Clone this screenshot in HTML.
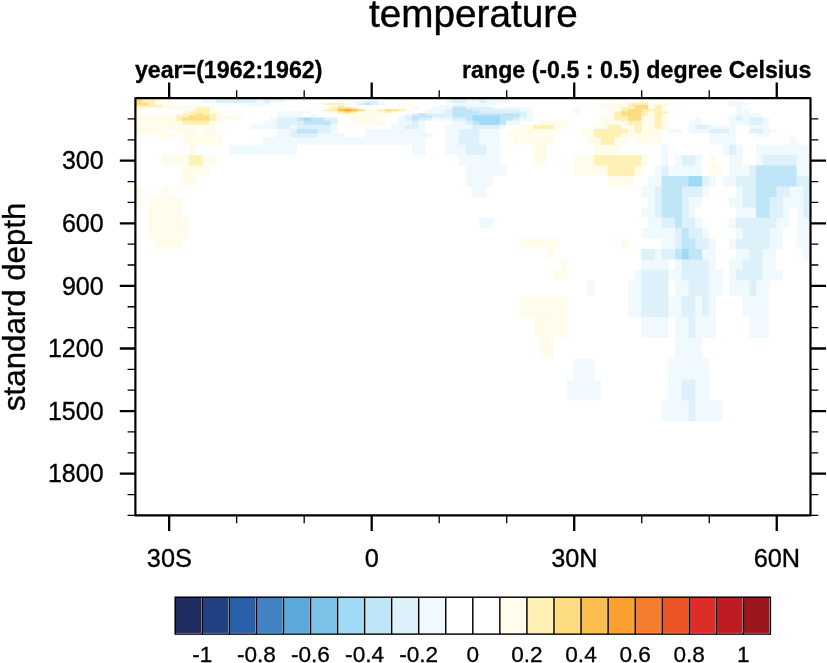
<!DOCTYPE html>
<html lang="en">
<head>
<meta charset="utf-8">
<title>temperature</title>
<style>
html,body{margin:0;padding:0;background:#fff;}
body{width:827px;height:663px;overflow:hidden;}
svg{display:block;font-family:'Liberation Sans','Arimo','Helvetica','Arial',sans-serif;}
text{fill:#000;}
</style>
</head>
<body>
<svg width="827" height="663" viewBox="0 0 827 663">
<rect x="0" y="0" width="827" height="663" fill="#fff"/>
<g stroke="none">
<rect x="135.05" y="97.75" width="7.75" height="4.13" fill="#fedc82"/>
<rect x="141.80" y="97.75" width="14.50" height="4.13" fill="#fff0b4"/>
<rect x="155.30" y="97.75" width="14.50" height="4.13" fill="#fffceb"/>
<rect x="168.80" y="97.75" width="34.75" height="4.13" fill="#fff"/>
<rect x="202.56" y="97.75" width="14.50" height="4.13" fill="#f0f9fd"/>
<rect x="216.06" y="97.75" width="41.50" height="4.13" fill="#dcf1fa"/>
<rect x="256.56" y="97.75" width="7.75" height="4.13" fill="#f0f9fd"/>
<rect x="263.31" y="97.75" width="21.25" height="4.13" fill="#dcf1fa"/>
<rect x="283.56" y="97.75" width="28.00" height="4.13" fill="#f0f9fd"/>
<rect x="310.56" y="97.75" width="136.01" height="4.13" fill="#fff"/>
<rect x="445.57" y="97.75" width="7.75" height="4.13" fill="#f0f9fd"/>
<rect x="452.32" y="97.75" width="14.50" height="4.13" fill="#dcf1fa"/>
<rect x="465.82" y="97.75" width="14.50" height="4.13" fill="#f0f9fd"/>
<rect x="479.33" y="97.75" width="7.75" height="4.13" fill="#dcf1fa"/>
<rect x="486.08" y="97.75" width="21.25" height="4.13" fill="#f0f9fd"/>
<rect x="506.33" y="97.75" width="304.17" height="4.13" fill="#fff"/>
<rect x="135.05" y="100.88" width="7.75" height="3.09" fill="#fedc82"/>
<rect x="141.80" y="100.88" width="14.50" height="3.09" fill="#fff0b4"/>
<rect x="155.30" y="100.88" width="14.50" height="3.09" fill="#fffceb"/>
<rect x="168.80" y="100.88" width="34.75" height="3.09" fill="#fff"/>
<rect x="202.56" y="100.88" width="14.50" height="3.09" fill="#f0f9fd"/>
<rect x="216.06" y="100.88" width="41.50" height="3.09" fill="#dcf1fa"/>
<rect x="256.56" y="100.88" width="7.75" height="3.09" fill="#f0f9fd"/>
<rect x="263.31" y="100.88" width="7.75" height="3.09" fill="#dcf1fa"/>
<rect x="270.06" y="100.88" width="14.50" height="3.09" fill="#f0f9fd"/>
<rect x="283.56" y="100.88" width="68.50" height="3.09" fill="#fff"/>
<rect x="351.07" y="100.88" width="14.50" height="3.09" fill="#f0f9fd"/>
<rect x="364.57" y="100.88" width="14.50" height="3.09" fill="#dcf1fa"/>
<rect x="378.07" y="100.88" width="7.75" height="3.09" fill="#f0f9fd"/>
<rect x="384.82" y="100.88" width="61.75" height="3.09" fill="#fff"/>
<rect x="445.57" y="100.88" width="7.75" height="3.09" fill="#f0f9fd"/>
<rect x="452.32" y="100.88" width="14.50" height="3.09" fill="#dcf1fa"/>
<rect x="465.82" y="100.88" width="14.50" height="3.09" fill="#f0f9fd"/>
<rect x="479.33" y="100.88" width="7.75" height="3.09" fill="#dcf1fa"/>
<rect x="486.08" y="100.88" width="21.25" height="3.09" fill="#f0f9fd"/>
<rect x="506.33" y="100.88" width="129.26" height="3.09" fill="#fff"/>
<rect x="634.59" y="100.88" width="14.50" height="3.09" fill="#fffceb"/>
<rect x="648.09" y="100.88" width="82.01" height="3.09" fill="#fff"/>
<rect x="729.09" y="100.88" width="14.50" height="3.09" fill="#f0f9fd"/>
<rect x="742.60" y="100.88" width="67.90" height="3.09" fill="#fff"/>
<rect x="135.05" y="102.97" width="14.50" height="3.09" fill="#fedc82"/>
<rect x="148.55" y="102.97" width="7.75" height="3.09" fill="#fff0b4"/>
<rect x="155.30" y="102.97" width="14.50" height="3.09" fill="#fffceb"/>
<rect x="168.80" y="102.97" width="55.00" height="3.09" fill="#fff"/>
<rect x="222.81" y="102.97" width="7.75" height="3.09" fill="#f0f9fd"/>
<rect x="229.56" y="102.97" width="14.50" height="3.09" fill="#fff"/>
<rect x="243.06" y="102.97" width="28.00" height="3.09" fill="#f0f9fd"/>
<rect x="270.06" y="102.97" width="41.50" height="3.09" fill="#fff"/>
<rect x="310.56" y="102.97" width="14.50" height="3.09" fill="#fffceb"/>
<rect x="324.06" y="102.97" width="21.25" height="3.09" fill="#fff0b4"/>
<rect x="344.32" y="102.97" width="7.75" height="3.09" fill="#fffceb"/>
<rect x="351.07" y="102.97" width="7.75" height="3.09" fill="#fff"/>
<rect x="357.82" y="102.97" width="7.75" height="3.09" fill="#dcf1fa"/>
<rect x="364.57" y="102.97" width="7.75" height="3.09" fill="#bee5f8"/>
<rect x="371.32" y="102.97" width="7.75" height="3.09" fill="#dcf1fa"/>
<rect x="378.07" y="102.97" width="7.75" height="3.09" fill="#f0f9fd"/>
<rect x="384.82" y="102.97" width="14.50" height="3.09" fill="#fff"/>
<rect x="398.32" y="102.97" width="28.00" height="3.09" fill="#fffceb"/>
<rect x="425.32" y="102.97" width="28.00" height="3.09" fill="#fff"/>
<rect x="452.32" y="102.97" width="48.25" height="3.09" fill="#f0f9fd"/>
<rect x="499.58" y="102.97" width="95.51" height="3.09" fill="#fff"/>
<rect x="594.08" y="102.97" width="34.75" height="3.09" fill="#fffceb"/>
<rect x="627.84" y="102.97" width="21.25" height="3.09" fill="#fff0b4"/>
<rect x="648.09" y="102.97" width="21.25" height="3.09" fill="#fffceb"/>
<rect x="668.34" y="102.97" width="7.75" height="3.09" fill="#fff"/>
<rect x="675.09" y="102.97" width="7.75" height="3.09" fill="#fffceb"/>
<rect x="681.84" y="102.97" width="48.25" height="3.09" fill="#fff"/>
<rect x="729.09" y="102.97" width="21.25" height="3.09" fill="#f0f9fd"/>
<rect x="749.35" y="102.97" width="61.15" height="3.09" fill="#fff"/>
<rect x="135.05" y="105.05" width="28.00" height="3.09" fill="#fff0b4"/>
<rect x="162.05" y="105.05" width="55.00" height="3.09" fill="#fffceb"/>
<rect x="216.06" y="105.05" width="34.75" height="3.09" fill="#fff"/>
<rect x="249.81" y="105.05" width="14.50" height="3.09" fill="#f0f9fd"/>
<rect x="263.31" y="105.05" width="61.75" height="3.09" fill="#fff"/>
<rect x="324.06" y="105.05" width="14.50" height="3.09" fill="#fffceb"/>
<rect x="337.56" y="105.05" width="7.75" height="3.09" fill="#fff0b4"/>
<rect x="344.32" y="105.05" width="55.00" height="3.09" fill="#fff"/>
<rect x="398.32" y="105.05" width="7.75" height="3.09" fill="#fffceb"/>
<rect x="405.07" y="105.05" width="34.75" height="3.09" fill="#fff"/>
<rect x="438.82" y="105.05" width="14.50" height="3.09" fill="#f0f9fd"/>
<rect x="452.32" y="105.05" width="14.50" height="3.09" fill="#dcf1fa"/>
<rect x="465.82" y="105.05" width="28.00" height="3.09" fill="#f0f9fd"/>
<rect x="492.83" y="105.05" width="109.01" height="3.09" fill="#fff"/>
<rect x="600.83" y="105.05" width="28.00" height="3.09" fill="#fffceb"/>
<rect x="627.84" y="105.05" width="7.75" height="3.09" fill="#fff0b4"/>
<rect x="634.59" y="105.05" width="14.50" height="3.09" fill="#fedc82"/>
<rect x="648.09" y="105.05" width="7.75" height="3.09" fill="#fffceb"/>
<rect x="654.84" y="105.05" width="7.75" height="3.09" fill="#fff0b4"/>
<rect x="661.59" y="105.05" width="7.75" height="3.09" fill="#fffceb"/>
<rect x="668.34" y="105.05" width="61.75" height="3.09" fill="#fff"/>
<rect x="729.09" y="105.05" width="14.50" height="3.09" fill="#f0f9fd"/>
<rect x="742.60" y="105.05" width="67.90" height="3.09" fill="#fff"/>
<rect x="135.05" y="107.14" width="61.75" height="3.09" fill="#fffceb"/>
<rect x="195.80" y="107.14" width="14.50" height="3.09" fill="#fff0b4"/>
<rect x="209.31" y="107.14" width="7.75" height="3.09" fill="#fffceb"/>
<rect x="216.06" y="107.14" width="109.01" height="3.09" fill="#fff"/>
<rect x="324.06" y="107.14" width="7.75" height="3.09" fill="#fffceb"/>
<rect x="330.81" y="107.14" width="7.75" height="3.09" fill="#fff0b4"/>
<rect x="337.56" y="107.14" width="14.50" height="3.09" fill="#fedc82"/>
<rect x="351.07" y="107.14" width="7.75" height="3.09" fill="#fff0b4"/>
<rect x="357.82" y="107.14" width="41.50" height="3.09" fill="#fff"/>
<rect x="398.32" y="107.14" width="7.75" height="3.09" fill="#fffceb"/>
<rect x="405.07" y="107.14" width="7.75" height="3.09" fill="#fff"/>
<rect x="411.82" y="107.14" width="7.75" height="3.09" fill="#f0f9fd"/>
<rect x="418.57" y="107.14" width="14.50" height="3.09" fill="#fff"/>
<rect x="432.07" y="107.14" width="21.25" height="3.09" fill="#f0f9fd"/>
<rect x="452.32" y="107.14" width="14.50" height="3.09" fill="#bee5f8"/>
<rect x="465.82" y="107.14" width="28.00" height="3.09" fill="#dcf1fa"/>
<rect x="492.83" y="107.14" width="34.75" height="3.09" fill="#f0f9fd"/>
<rect x="526.58" y="107.14" width="75.26" height="3.09" fill="#fff"/>
<rect x="600.83" y="107.14" width="21.25" height="3.09" fill="#fffceb"/>
<rect x="621.09" y="107.14" width="14.50" height="3.09" fill="#fff0b4"/>
<rect x="634.59" y="107.14" width="14.50" height="3.09" fill="#fedc82"/>
<rect x="648.09" y="107.14" width="7.75" height="3.09" fill="#fffceb"/>
<rect x="654.84" y="107.14" width="7.75" height="3.09" fill="#fff0b4"/>
<rect x="661.59" y="107.14" width="7.75" height="3.09" fill="#fffceb"/>
<rect x="668.34" y="107.14" width="68.50" height="3.09" fill="#fff"/>
<rect x="735.84" y="107.14" width="7.75" height="3.09" fill="#f0f9fd"/>
<rect x="742.60" y="107.14" width="67.90" height="3.09" fill="#fff"/>
<rect x="135.05" y="109.23" width="7.75" height="3.09" fill="#fffceb"/>
<rect x="141.80" y="109.23" width="41.50" height="3.09" fill="#fff"/>
<rect x="182.30" y="109.23" width="14.50" height="3.09" fill="#fffceb"/>
<rect x="195.80" y="109.23" width="14.50" height="3.09" fill="#fff0b4"/>
<rect x="209.31" y="109.23" width="7.75" height="3.09" fill="#fffceb"/>
<rect x="216.06" y="109.23" width="102.26" height="3.09" fill="#fff"/>
<rect x="317.31" y="109.23" width="7.75" height="3.09" fill="#fffceb"/>
<rect x="324.06" y="109.23" width="14.50" height="3.09" fill="#fff0b4"/>
<rect x="337.56" y="109.23" width="7.75" height="3.09" fill="#fdbe50"/>
<rect x="344.32" y="109.23" width="7.75" height="3.09" fill="#faa032"/>
<rect x="351.07" y="109.23" width="7.75" height="3.09" fill="#fdbe50"/>
<rect x="357.82" y="109.23" width="7.75" height="3.09" fill="#fedc82"/>
<rect x="364.57" y="109.23" width="14.50" height="3.09" fill="#fffceb"/>
<rect x="378.07" y="109.23" width="7.75" height="3.09" fill="#fff0b4"/>
<rect x="384.82" y="109.23" width="14.50" height="3.09" fill="#fedc82"/>
<rect x="398.32" y="109.23" width="7.75" height="3.09" fill="#fff0b4"/>
<rect x="405.07" y="109.23" width="7.75" height="3.09" fill="#fffceb"/>
<rect x="411.82" y="109.23" width="14.50" height="3.09" fill="#fff"/>
<rect x="425.32" y="109.23" width="21.25" height="3.09" fill="#f0f9fd"/>
<rect x="445.57" y="109.23" width="7.75" height="3.09" fill="#dcf1fa"/>
<rect x="452.32" y="109.23" width="21.25" height="3.09" fill="#bee5f8"/>
<rect x="472.57" y="109.23" width="48.25" height="3.09" fill="#dcf1fa"/>
<rect x="519.83" y="109.23" width="14.50" height="3.09" fill="#f0f9fd"/>
<rect x="533.33" y="109.23" width="41.50" height="3.09" fill="#fff"/>
<rect x="573.83" y="109.23" width="7.75" height="3.09" fill="#f0f9fd"/>
<rect x="580.58" y="109.23" width="28.00" height="3.09" fill="#fff"/>
<rect x="607.59" y="109.23" width="7.75" height="3.09" fill="#fffceb"/>
<rect x="614.34" y="109.23" width="7.75" height="3.09" fill="#fff"/>
<rect x="621.09" y="109.23" width="7.75" height="3.09" fill="#fff0b4"/>
<rect x="627.84" y="109.23" width="14.50" height="3.09" fill="#fedc82"/>
<rect x="641.34" y="109.23" width="21.25" height="3.09" fill="#fff0b4"/>
<rect x="661.59" y="109.23" width="7.75" height="3.09" fill="#fffceb"/>
<rect x="668.34" y="109.23" width="68.50" height="3.09" fill="#fff"/>
<rect x="735.84" y="109.23" width="14.50" height="3.09" fill="#f0f9fd"/>
<rect x="749.35" y="109.23" width="61.15" height="3.09" fill="#fff"/>
<rect x="135.05" y="111.31" width="48.25" height="3.09" fill="#fff"/>
<rect x="182.30" y="111.31" width="7.75" height="3.09" fill="#fffceb"/>
<rect x="189.05" y="111.31" width="21.25" height="3.09" fill="#fff0b4"/>
<rect x="209.31" y="111.31" width="14.50" height="3.09" fill="#fffceb"/>
<rect x="222.81" y="111.31" width="55.00" height="3.09" fill="#fff"/>
<rect x="276.81" y="111.31" width="34.75" height="3.09" fill="#f0f9fd"/>
<rect x="310.56" y="111.31" width="14.50" height="3.09" fill="#fff"/>
<rect x="324.06" y="111.31" width="14.50" height="3.09" fill="#fffceb"/>
<rect x="337.56" y="111.31" width="7.75" height="3.09" fill="#fff0b4"/>
<rect x="344.32" y="111.31" width="7.75" height="3.09" fill="#fedc82"/>
<rect x="351.07" y="111.31" width="7.75" height="3.09" fill="#fff0b4"/>
<rect x="357.82" y="111.31" width="28.00" height="3.09" fill="#fffceb"/>
<rect x="384.82" y="111.31" width="7.75" height="3.09" fill="#fff0b4"/>
<rect x="391.57" y="111.31" width="7.75" height="3.09" fill="#fffceb"/>
<rect x="398.32" y="111.31" width="28.00" height="3.09" fill="#fff"/>
<rect x="425.32" y="111.31" width="21.25" height="3.09" fill="#f0f9fd"/>
<rect x="445.57" y="111.31" width="7.75" height="3.09" fill="#dcf1fa"/>
<rect x="452.32" y="111.31" width="28.00" height="3.09" fill="#bee5f8"/>
<rect x="479.33" y="111.31" width="48.25" height="3.09" fill="#dcf1fa"/>
<rect x="526.58" y="111.31" width="7.75" height="3.09" fill="#f0f9fd"/>
<rect x="533.33" y="111.31" width="41.50" height="3.09" fill="#fff"/>
<rect x="573.83" y="111.31" width="7.75" height="3.09" fill="#f0f9fd"/>
<rect x="580.58" y="111.31" width="28.00" height="3.09" fill="#fff"/>
<rect x="607.59" y="111.31" width="7.75" height="3.09" fill="#fffceb"/>
<rect x="614.34" y="111.31" width="7.75" height="3.09" fill="#fff0b4"/>
<rect x="621.09" y="111.31" width="21.25" height="3.09" fill="#fedc82"/>
<rect x="641.34" y="111.31" width="7.75" height="3.09" fill="#fff0b4"/>
<rect x="648.09" y="111.31" width="7.75" height="3.09" fill="#fffceb"/>
<rect x="654.84" y="111.31" width="14.50" height="3.09" fill="#fff0b4"/>
<rect x="668.34" y="111.31" width="7.75" height="3.09" fill="#fff"/>
<rect x="675.09" y="111.31" width="7.75" height="3.09" fill="#fffceb"/>
<rect x="681.84" y="111.31" width="55.00" height="3.09" fill="#fff"/>
<rect x="735.84" y="111.31" width="14.50" height="3.09" fill="#f0f9fd"/>
<rect x="749.35" y="111.31" width="61.15" height="3.09" fill="#fff"/>
<rect x="135.05" y="113.40" width="7.75" height="3.09" fill="#fffceb"/>
<rect x="141.80" y="113.40" width="7.75" height="3.09" fill="#fff"/>
<rect x="148.55" y="113.40" width="7.75" height="3.09" fill="#fffceb"/>
<rect x="155.30" y="113.40" width="7.75" height="3.09" fill="#fff"/>
<rect x="162.05" y="113.40" width="21.25" height="3.09" fill="#fffceb"/>
<rect x="182.30" y="113.40" width="14.50" height="3.09" fill="#fff0b4"/>
<rect x="195.80" y="113.40" width="7.75" height="3.09" fill="#fedc82"/>
<rect x="202.56" y="113.40" width="14.50" height="3.09" fill="#fff0b4"/>
<rect x="216.06" y="113.40" width="7.75" height="3.09" fill="#fffceb"/>
<rect x="222.81" y="113.40" width="55.00" height="3.09" fill="#fff"/>
<rect x="276.81" y="113.40" width="28.00" height="3.09" fill="#f0f9fd"/>
<rect x="303.81" y="113.40" width="7.75" height="3.09" fill="#fff"/>
<rect x="310.56" y="113.40" width="7.75" height="3.09" fill="#f0f9fd"/>
<rect x="317.31" y="113.40" width="21.25" height="3.09" fill="#fff"/>
<rect x="337.56" y="113.40" width="48.25" height="3.09" fill="#fffceb"/>
<rect x="384.82" y="113.40" width="21.25" height="3.09" fill="#fff"/>
<rect x="405.07" y="113.40" width="7.75" height="3.09" fill="#f0f9fd"/>
<rect x="411.82" y="113.40" width="7.75" height="3.09" fill="#dcf1fa"/>
<rect x="418.57" y="113.40" width="7.75" height="3.09" fill="#bee5f8"/>
<rect x="425.32" y="113.40" width="28.00" height="3.09" fill="#dcf1fa"/>
<rect x="452.32" y="113.40" width="68.51" height="3.09" fill="#bee5f8"/>
<rect x="519.83" y="113.40" width="7.75" height="3.09" fill="#dcf1fa"/>
<rect x="526.58" y="113.40" width="7.75" height="3.09" fill="#f0f9fd"/>
<rect x="533.33" y="113.40" width="75.26" height="3.09" fill="#fff"/>
<rect x="607.59" y="113.40" width="7.75" height="3.09" fill="#fffceb"/>
<rect x="614.34" y="113.40" width="7.75" height="3.09" fill="#fff0b4"/>
<rect x="621.09" y="113.40" width="21.25" height="3.09" fill="#fedc82"/>
<rect x="641.34" y="113.40" width="7.75" height="3.09" fill="#fff0b4"/>
<rect x="648.09" y="113.40" width="7.75" height="3.09" fill="#fffceb"/>
<rect x="654.84" y="113.40" width="7.75" height="3.09" fill="#fff0b4"/>
<rect x="661.59" y="113.40" width="7.75" height="3.09" fill="#fffceb"/>
<rect x="668.34" y="113.40" width="68.50" height="3.09" fill="#fff"/>
<rect x="735.84" y="113.40" width="28.00" height="3.09" fill="#f0f9fd"/>
<rect x="762.85" y="113.40" width="47.65" height="3.09" fill="#fff"/>
<rect x="135.05" y="115.49" width="41.50" height="3.09" fill="#fffceb"/>
<rect x="175.55" y="115.49" width="14.50" height="3.09" fill="#fff0b4"/>
<rect x="189.05" y="115.49" width="21.25" height="3.09" fill="#fedc82"/>
<rect x="209.31" y="115.49" width="7.75" height="3.09" fill="#fff0b4"/>
<rect x="216.06" y="115.49" width="28.00" height="3.09" fill="#fffceb"/>
<rect x="243.06" y="115.49" width="34.75" height="3.09" fill="#fff"/>
<rect x="276.81" y="115.49" width="28.00" height="3.09" fill="#f0f9fd"/>
<rect x="303.81" y="115.49" width="7.75" height="3.09" fill="#fff"/>
<rect x="310.56" y="115.49" width="7.75" height="3.09" fill="#f0f9fd"/>
<rect x="317.31" y="115.49" width="34.75" height="3.09" fill="#fff"/>
<rect x="351.07" y="115.49" width="34.75" height="3.09" fill="#fffceb"/>
<rect x="384.82" y="115.49" width="14.50" height="3.09" fill="#fff"/>
<rect x="398.32" y="115.49" width="7.75" height="3.09" fill="#f0f9fd"/>
<rect x="405.07" y="115.49" width="7.75" height="3.09" fill="#dcf1fa"/>
<rect x="411.82" y="115.49" width="21.25" height="3.09" fill="#bee5f8"/>
<rect x="432.07" y="115.49" width="21.25" height="3.09" fill="#dcf1fa"/>
<rect x="452.32" y="115.49" width="21.25" height="3.09" fill="#bee5f8"/>
<rect x="472.57" y="115.49" width="28.00" height="3.09" fill="#a0d9f5"/>
<rect x="499.58" y="115.49" width="21.25" height="3.09" fill="#bee5f8"/>
<rect x="519.83" y="115.49" width="7.75" height="3.09" fill="#dcf1fa"/>
<rect x="526.58" y="115.49" width="7.75" height="3.09" fill="#f0f9fd"/>
<rect x="533.33" y="115.49" width="68.50" height="3.09" fill="#fff"/>
<rect x="600.83" y="115.49" width="14.50" height="3.09" fill="#fffceb"/>
<rect x="614.34" y="115.49" width="14.50" height="3.09" fill="#fff0b4"/>
<rect x="627.84" y="115.49" width="14.50" height="3.09" fill="#fedc82"/>
<rect x="641.34" y="115.49" width="14.50" height="3.09" fill="#fffceb"/>
<rect x="654.84" y="115.49" width="7.75" height="3.09" fill="#fff0b4"/>
<rect x="661.59" y="115.49" width="7.75" height="3.09" fill="#fffceb"/>
<rect x="668.34" y="115.49" width="61.75" height="3.09" fill="#fff"/>
<rect x="729.09" y="115.49" width="7.75" height="3.09" fill="#f0f9fd"/>
<rect x="735.84" y="115.49" width="7.75" height="3.09" fill="#dcf1fa"/>
<rect x="742.60" y="115.49" width="21.25" height="3.09" fill="#f0f9fd"/>
<rect x="762.85" y="115.49" width="47.65" height="3.09" fill="#fff"/>
<rect x="135.05" y="117.57" width="41.50" height="4.13" fill="#fffceb"/>
<rect x="175.55" y="117.57" width="7.75" height="4.13" fill="#fff0b4"/>
<rect x="182.30" y="117.57" width="28.00" height="4.13" fill="#fedc82"/>
<rect x="209.31" y="117.57" width="7.75" height="4.13" fill="#fff0b4"/>
<rect x="216.06" y="117.57" width="28.00" height="4.13" fill="#fffceb"/>
<rect x="243.06" y="117.57" width="28.00" height="4.13" fill="#fff"/>
<rect x="270.06" y="117.57" width="7.75" height="4.13" fill="#f0f9fd"/>
<rect x="276.81" y="117.57" width="21.25" height="4.13" fill="#dcf1fa"/>
<rect x="297.06" y="117.57" width="7.75" height="4.13" fill="#bee5f8"/>
<rect x="303.81" y="117.57" width="7.75" height="4.13" fill="#a0d9f5"/>
<rect x="310.56" y="117.57" width="14.50" height="4.13" fill="#bee5f8"/>
<rect x="324.06" y="117.57" width="14.50" height="4.13" fill="#dcf1fa"/>
<rect x="337.56" y="117.57" width="14.50" height="4.13" fill="#fff"/>
<rect x="351.07" y="117.57" width="28.00" height="4.13" fill="#fffceb"/>
<rect x="378.07" y="117.57" width="21.25" height="4.13" fill="#fff"/>
<rect x="398.32" y="117.57" width="7.75" height="4.13" fill="#f0f9fd"/>
<rect x="405.07" y="117.57" width="7.75" height="4.13" fill="#dcf1fa"/>
<rect x="411.82" y="117.57" width="7.75" height="4.13" fill="#bee5f8"/>
<rect x="418.57" y="117.57" width="14.50" height="4.13" fill="#dcf1fa"/>
<rect x="432.07" y="117.57" width="21.25" height="4.13" fill="#f0f9fd"/>
<rect x="452.32" y="117.57" width="14.50" height="4.13" fill="#dcf1fa"/>
<rect x="465.82" y="117.57" width="7.75" height="4.13" fill="#bee5f8"/>
<rect x="472.57" y="117.57" width="28.00" height="4.13" fill="#a0d9f5"/>
<rect x="499.58" y="117.57" width="14.50" height="4.13" fill="#bee5f8"/>
<rect x="513.08" y="117.57" width="7.75" height="4.13" fill="#dcf1fa"/>
<rect x="519.83" y="117.57" width="14.50" height="4.13" fill="#f0f9fd"/>
<rect x="533.33" y="117.57" width="68.50" height="4.13" fill="#fff"/>
<rect x="600.83" y="117.57" width="14.50" height="4.13" fill="#fffceb"/>
<rect x="614.34" y="117.57" width="14.50" height="4.13" fill="#fff0b4"/>
<rect x="627.84" y="117.57" width="14.50" height="4.13" fill="#fedc82"/>
<rect x="641.34" y="117.57" width="14.50" height="4.13" fill="#fffceb"/>
<rect x="654.84" y="117.57" width="7.75" height="4.13" fill="#fff0b4"/>
<rect x="661.59" y="117.57" width="7.75" height="4.13" fill="#fffceb"/>
<rect x="668.34" y="117.57" width="28.00" height="4.13" fill="#fff"/>
<rect x="695.34" y="117.57" width="7.75" height="4.13" fill="#f0f9fd"/>
<rect x="702.09" y="117.57" width="28.00" height="4.13" fill="#fff"/>
<rect x="729.09" y="117.57" width="7.75" height="4.13" fill="#f0f9fd"/>
<rect x="735.84" y="117.57" width="7.75" height="4.13" fill="#dcf1fa"/>
<rect x="742.60" y="117.57" width="7.75" height="4.13" fill="#f0f9fd"/>
<rect x="749.35" y="117.57" width="14.50" height="4.13" fill="#dcf1fa"/>
<rect x="762.85" y="117.57" width="7.75" height="4.13" fill="#f0f9fd"/>
<rect x="769.60" y="117.57" width="40.90" height="4.13" fill="#fff"/>
<rect x="135.05" y="120.70" width="48.25" height="5.17" fill="#fffceb"/>
<rect x="182.30" y="120.70" width="28.00" height="5.17" fill="#fff0b4"/>
<rect x="209.31" y="120.70" width="14.50" height="5.17" fill="#fffceb"/>
<rect x="222.81" y="120.70" width="41.50" height="5.17" fill="#fff"/>
<rect x="263.31" y="120.70" width="14.50" height="5.17" fill="#f0f9fd"/>
<rect x="276.81" y="120.70" width="28.00" height="5.17" fill="#dcf1fa"/>
<rect x="303.81" y="120.70" width="28.00" height="5.17" fill="#bee5f8"/>
<rect x="330.81" y="120.70" width="7.75" height="5.17" fill="#dcf1fa"/>
<rect x="337.56" y="120.70" width="14.50" height="5.17" fill="#fff"/>
<rect x="351.07" y="120.70" width="34.75" height="5.17" fill="#fffceb"/>
<rect x="384.82" y="120.70" width="14.50" height="5.17" fill="#fff"/>
<rect x="398.32" y="120.70" width="14.50" height="5.17" fill="#f0f9fd"/>
<rect x="411.82" y="120.70" width="7.75" height="5.17" fill="#dcf1fa"/>
<rect x="418.57" y="120.70" width="7.75" height="5.17" fill="#f0f9fd"/>
<rect x="425.32" y="120.70" width="28.00" height="5.17" fill="#fff"/>
<rect x="452.32" y="120.70" width="14.50" height="5.17" fill="#f0f9fd"/>
<rect x="465.82" y="120.70" width="7.75" height="5.17" fill="#dcf1fa"/>
<rect x="472.57" y="120.70" width="7.75" height="5.17" fill="#bee5f8"/>
<rect x="479.33" y="120.70" width="21.25" height="5.17" fill="#a0d9f5"/>
<rect x="499.58" y="120.70" width="7.75" height="5.17" fill="#bee5f8"/>
<rect x="506.33" y="120.70" width="14.50" height="5.17" fill="#f0f9fd"/>
<rect x="519.83" y="120.70" width="21.25" height="5.17" fill="#fff"/>
<rect x="540.08" y="120.70" width="28.00" height="5.17" fill="#fffceb"/>
<rect x="567.08" y="120.70" width="34.75" height="5.17" fill="#fff"/>
<rect x="600.83" y="120.70" width="28.00" height="5.17" fill="#fffceb"/>
<rect x="627.84" y="120.70" width="14.50" height="5.17" fill="#fff0b4"/>
<rect x="641.34" y="120.70" width="14.50" height="5.17" fill="#fffceb"/>
<rect x="654.84" y="120.70" width="7.75" height="5.17" fill="#fff0b4"/>
<rect x="661.59" y="120.70" width="7.75" height="5.17" fill="#fffceb"/>
<rect x="668.34" y="120.70" width="21.25" height="5.17" fill="#fff"/>
<rect x="688.59" y="120.70" width="14.50" height="5.17" fill="#f0f9fd"/>
<rect x="702.09" y="120.70" width="28.00" height="5.17" fill="#fff"/>
<rect x="729.09" y="120.70" width="21.25" height="5.17" fill="#f0f9fd"/>
<rect x="749.35" y="120.70" width="14.50" height="5.17" fill="#dcf1fa"/>
<rect x="762.85" y="120.70" width="7.75" height="5.17" fill="#f0f9fd"/>
<rect x="769.60" y="120.70" width="40.90" height="5.17" fill="#fff"/>
<rect x="135.05" y="124.87" width="82.01" height="5.17" fill="#fffceb"/>
<rect x="216.06" y="124.87" width="34.75" height="5.17" fill="#fff"/>
<rect x="249.81" y="124.87" width="28.00" height="5.17" fill="#f0f9fd"/>
<rect x="276.81" y="124.87" width="14.50" height="5.17" fill="#dcf1fa"/>
<rect x="290.31" y="124.87" width="7.75" height="5.17" fill="#f0f9fd"/>
<rect x="297.06" y="124.87" width="34.75" height="5.17" fill="#dcf1fa"/>
<rect x="330.81" y="124.87" width="7.75" height="5.17" fill="#f0f9fd"/>
<rect x="337.56" y="124.87" width="55.00" height="5.17" fill="#fff"/>
<rect x="391.57" y="124.87" width="14.50" height="5.17" fill="#f0f9fd"/>
<rect x="405.07" y="124.87" width="14.50" height="5.17" fill="#dcf1fa"/>
<rect x="418.57" y="124.87" width="7.75" height="5.17" fill="#f0f9fd"/>
<rect x="425.32" y="124.87" width="21.25" height="5.17" fill="#fff"/>
<rect x="445.57" y="124.87" width="28.00" height="5.17" fill="#f0f9fd"/>
<rect x="472.57" y="124.87" width="28.00" height="5.17" fill="#dcf1fa"/>
<rect x="499.58" y="124.87" width="7.75" height="5.17" fill="#f0f9fd"/>
<rect x="506.33" y="124.87" width="14.50" height="5.17" fill="#fff"/>
<rect x="519.83" y="124.87" width="14.50" height="5.17" fill="#fffceb"/>
<rect x="533.33" y="124.87" width="21.25" height="5.17" fill="#fff0b4"/>
<rect x="553.58" y="124.87" width="14.50" height="5.17" fill="#fffceb"/>
<rect x="567.08" y="124.87" width="28.00" height="5.17" fill="#fff"/>
<rect x="594.08" y="124.87" width="14.50" height="5.17" fill="#fffceb"/>
<rect x="607.59" y="124.87" width="14.50" height="5.17" fill="#fff0b4"/>
<rect x="621.09" y="124.87" width="14.50" height="5.17" fill="#fffceb"/>
<rect x="634.59" y="124.87" width="7.75" height="5.17" fill="#fff0b4"/>
<rect x="641.34" y="124.87" width="14.50" height="5.17" fill="#fffceb"/>
<rect x="654.84" y="124.87" width="7.75" height="5.17" fill="#fff0b4"/>
<rect x="661.59" y="124.87" width="7.75" height="5.17" fill="#fffceb"/>
<rect x="668.34" y="124.87" width="21.25" height="5.17" fill="#fff"/>
<rect x="688.59" y="124.87" width="7.75" height="5.17" fill="#f0f9fd"/>
<rect x="695.34" y="124.87" width="14.50" height="5.17" fill="#dcf1fa"/>
<rect x="708.84" y="124.87" width="28.00" height="5.17" fill="#f0f9fd"/>
<rect x="735.84" y="124.87" width="14.50" height="5.17" fill="#fff"/>
<rect x="749.35" y="124.87" width="21.25" height="5.17" fill="#f0f9fd"/>
<rect x="769.60" y="124.87" width="40.90" height="5.17" fill="#fff"/>
<rect x="135.05" y="129.05" width="34.75" height="5.17" fill="#fffceb"/>
<rect x="168.80" y="129.05" width="7.75" height="5.17" fill="#fff"/>
<rect x="175.55" y="129.05" width="21.25" height="5.17" fill="#fffceb"/>
<rect x="195.80" y="129.05" width="7.75" height="5.17" fill="#fff"/>
<rect x="202.56" y="129.05" width="14.50" height="5.17" fill="#fffceb"/>
<rect x="216.06" y="129.05" width="61.75" height="5.17" fill="#fff"/>
<rect x="276.81" y="129.05" width="14.50" height="5.17" fill="#f0f9fd"/>
<rect x="290.31" y="129.05" width="7.75" height="5.17" fill="#dcf1fa"/>
<rect x="297.06" y="129.05" width="21.25" height="5.17" fill="#bee5f8"/>
<rect x="317.31" y="129.05" width="14.50" height="5.17" fill="#dcf1fa"/>
<rect x="330.81" y="129.05" width="7.75" height="5.17" fill="#f0f9fd"/>
<rect x="337.56" y="129.05" width="28.00" height="5.17" fill="#fff"/>
<rect x="364.57" y="129.05" width="61.75" height="5.17" fill="#f0f9fd"/>
<rect x="425.32" y="129.05" width="21.25" height="5.17" fill="#fff"/>
<rect x="445.57" y="129.05" width="14.50" height="5.17" fill="#f0f9fd"/>
<rect x="459.07" y="129.05" width="21.25" height="5.17" fill="#dcf1fa"/>
<rect x="479.33" y="129.05" width="21.25" height="5.17" fill="#f0f9fd"/>
<rect x="499.58" y="129.05" width="14.50" height="5.17" fill="#fff"/>
<rect x="513.08" y="129.05" width="48.25" height="5.17" fill="#fffceb"/>
<rect x="560.33" y="129.05" width="21.25" height="5.17" fill="#fff"/>
<rect x="580.58" y="129.05" width="14.50" height="5.17" fill="#fffceb"/>
<rect x="594.08" y="129.05" width="34.75" height="5.17" fill="#fff0b4"/>
<rect x="627.84" y="129.05" width="7.75" height="5.17" fill="#fffceb"/>
<rect x="634.59" y="129.05" width="7.75" height="5.17" fill="#fff0b4"/>
<rect x="641.34" y="129.05" width="21.25" height="5.17" fill="#fffceb"/>
<rect x="661.59" y="129.05" width="7.75" height="5.17" fill="#fff"/>
<rect x="668.34" y="129.05" width="14.50" height="5.17" fill="#f0f9fd"/>
<rect x="681.84" y="129.05" width="7.75" height="5.17" fill="#fff"/>
<rect x="688.59" y="129.05" width="21.25" height="5.17" fill="#f0f9fd"/>
<rect x="708.84" y="129.05" width="21.25" height="5.17" fill="#dcf1fa"/>
<rect x="729.09" y="129.05" width="7.75" height="5.17" fill="#f0f9fd"/>
<rect x="735.84" y="129.05" width="14.50" height="5.17" fill="#fff"/>
<rect x="749.35" y="129.05" width="14.50" height="5.17" fill="#dcf1fa"/>
<rect x="762.85" y="129.05" width="14.50" height="5.17" fill="#f0f9fd"/>
<rect x="776.35" y="129.05" width="34.15" height="5.17" fill="#fff"/>
<rect x="135.05" y="133.22" width="21.25" height="5.17" fill="#fff"/>
<rect x="155.30" y="133.22" width="21.25" height="5.17" fill="#fffceb"/>
<rect x="175.55" y="133.22" width="7.75" height="5.17" fill="#fff"/>
<rect x="182.30" y="133.22" width="41.50" height="5.17" fill="#fffceb"/>
<rect x="222.81" y="133.22" width="55.00" height="5.17" fill="#fff"/>
<rect x="276.81" y="133.22" width="14.50" height="5.17" fill="#f0f9fd"/>
<rect x="290.31" y="133.22" width="28.00" height="5.17" fill="#dcf1fa"/>
<rect x="317.31" y="133.22" width="28.00" height="5.17" fill="#f0f9fd"/>
<rect x="344.32" y="133.22" width="21.25" height="5.17" fill="#fff"/>
<rect x="364.57" y="133.22" width="68.50" height="5.17" fill="#f0f9fd"/>
<rect x="432.07" y="133.22" width="14.50" height="5.17" fill="#fff"/>
<rect x="445.57" y="133.22" width="14.50" height="5.17" fill="#f0f9fd"/>
<rect x="459.07" y="133.22" width="21.25" height="5.17" fill="#dcf1fa"/>
<rect x="479.33" y="133.22" width="21.25" height="5.17" fill="#f0f9fd"/>
<rect x="499.58" y="133.22" width="7.75" height="5.17" fill="#fff"/>
<rect x="506.33" y="133.22" width="48.25" height="5.17" fill="#fffceb"/>
<rect x="553.58" y="133.22" width="28.00" height="5.17" fill="#fff"/>
<rect x="580.58" y="133.22" width="14.50" height="5.17" fill="#fffceb"/>
<rect x="594.08" y="133.22" width="28.00" height="5.17" fill="#fff0b4"/>
<rect x="621.09" y="133.22" width="41.50" height="5.17" fill="#fffceb"/>
<rect x="661.59" y="133.22" width="48.25" height="5.17" fill="#fff"/>
<rect x="708.84" y="133.22" width="28.00" height="5.17" fill="#f0f9fd"/>
<rect x="735.84" y="133.22" width="21.25" height="5.17" fill="#fff"/>
<rect x="756.10" y="133.22" width="14.50" height="5.17" fill="#f0f9fd"/>
<rect x="769.60" y="133.22" width="40.90" height="5.17" fill="#fff"/>
<rect x="135.05" y="137.39" width="48.25" height="8.30" fill="#fff"/>
<rect x="182.30" y="137.39" width="41.50" height="8.30" fill="#fffceb"/>
<rect x="222.81" y="137.39" width="41.50" height="8.30" fill="#fff"/>
<rect x="263.31" y="137.39" width="163.01" height="8.30" fill="#f0f9fd"/>
<rect x="425.32" y="137.39" width="21.25" height="8.30" fill="#fff"/>
<rect x="445.57" y="137.39" width="14.50" height="8.30" fill="#f0f9fd"/>
<rect x="459.07" y="137.39" width="21.25" height="8.30" fill="#dcf1fa"/>
<rect x="479.33" y="137.39" width="21.25" height="8.30" fill="#f0f9fd"/>
<rect x="499.58" y="137.39" width="14.50" height="8.30" fill="#fff"/>
<rect x="513.08" y="137.39" width="41.50" height="8.30" fill="#fffceb"/>
<rect x="553.58" y="137.39" width="34.75" height="8.30" fill="#fff"/>
<rect x="587.33" y="137.39" width="14.50" height="8.30" fill="#fffceb"/>
<rect x="600.83" y="137.39" width="14.50" height="8.30" fill="#fff0b4"/>
<rect x="614.34" y="137.39" width="14.50" height="8.30" fill="#fffceb"/>
<rect x="627.84" y="137.39" width="7.75" height="8.30" fill="#fff"/>
<rect x="634.59" y="137.39" width="28.00" height="8.30" fill="#fffceb"/>
<rect x="661.59" y="137.39" width="48.25" height="8.30" fill="#fff"/>
<rect x="708.84" y="137.39" width="28.00" height="8.30" fill="#f0f9fd"/>
<rect x="735.84" y="137.39" width="55.00" height="8.30" fill="#fff"/>
<rect x="789.85" y="137.39" width="7.75" height="8.30" fill="#f0f9fd"/>
<rect x="796.60" y="137.39" width="13.90" height="8.30" fill="#fff"/>
<rect x="135.05" y="144.70" width="55.00" height="11.43" fill="#fff"/>
<rect x="189.05" y="144.70" width="7.75" height="11.43" fill="#fffceb"/>
<rect x="195.80" y="144.70" width="34.75" height="11.43" fill="#fff"/>
<rect x="229.56" y="144.70" width="68.50" height="11.43" fill="#f0f9fd"/>
<rect x="297.06" y="144.70" width="115.76" height="11.43" fill="#fff"/>
<rect x="411.82" y="144.70" width="14.50" height="11.43" fill="#f0f9fd"/>
<rect x="425.32" y="144.70" width="21.25" height="11.43" fill="#fff"/>
<rect x="445.57" y="144.70" width="21.25" height="11.43" fill="#f0f9fd"/>
<rect x="465.82" y="144.70" width="21.25" height="11.43" fill="#dcf1fa"/>
<rect x="486.08" y="144.70" width="14.50" height="11.43" fill="#f0f9fd"/>
<rect x="499.58" y="144.70" width="34.75" height="11.43" fill="#fff"/>
<rect x="533.33" y="144.70" width="14.50" height="11.43" fill="#fffceb"/>
<rect x="546.83" y="144.70" width="48.25" height="11.43" fill="#fff"/>
<rect x="594.08" y="144.70" width="28.00" height="11.43" fill="#fffceb"/>
<rect x="621.09" y="144.70" width="41.50" height="11.43" fill="#fff"/>
<rect x="661.59" y="144.70" width="7.75" height="11.43" fill="#f0f9fd"/>
<rect x="668.34" y="144.70" width="55.00" height="11.43" fill="#fff"/>
<rect x="722.34" y="144.70" width="7.75" height="11.43" fill="#f0f9fd"/>
<rect x="729.09" y="144.70" width="7.75" height="11.43" fill="#dcf1fa"/>
<rect x="735.84" y="144.70" width="7.75" height="11.43" fill="#f0f9fd"/>
<rect x="742.60" y="144.70" width="14.50" height="11.43" fill="#fff"/>
<rect x="756.10" y="144.70" width="54.40" height="11.43" fill="#f0f9fd"/>
<rect x="135.05" y="155.13" width="28.00" height="11.43" fill="#fff"/>
<rect x="162.05" y="155.13" width="28.00" height="11.43" fill="#fffceb"/>
<rect x="189.05" y="155.13" width="14.50" height="11.43" fill="#fff0b4"/>
<rect x="202.56" y="155.13" width="14.50" height="11.43" fill="#fffceb"/>
<rect x="216.06" y="155.13" width="244.02" height="11.43" fill="#fff"/>
<rect x="459.07" y="155.13" width="41.50" height="11.43" fill="#f0f9fd"/>
<rect x="499.58" y="155.13" width="34.75" height="11.43" fill="#fff"/>
<rect x="533.33" y="155.13" width="14.50" height="11.43" fill="#fffceb"/>
<rect x="546.83" y="155.13" width="28.00" height="11.43" fill="#fff"/>
<rect x="573.83" y="155.13" width="21.25" height="11.43" fill="#fffceb"/>
<rect x="594.08" y="155.13" width="48.25" height="11.43" fill="#fff0b4"/>
<rect x="641.34" y="155.13" width="7.75" height="11.43" fill="#fffceb"/>
<rect x="648.09" y="155.13" width="14.50" height="11.43" fill="#fff"/>
<rect x="661.59" y="155.13" width="7.75" height="11.43" fill="#f0f9fd"/>
<rect x="668.34" y="155.13" width="7.75" height="11.43" fill="#fff"/>
<rect x="675.09" y="155.13" width="7.75" height="11.43" fill="#f0f9fd"/>
<rect x="681.84" y="155.13" width="14.50" height="11.43" fill="#dcf1fa"/>
<rect x="695.34" y="155.13" width="7.75" height="11.43" fill="#f0f9fd"/>
<rect x="702.09" y="155.13" width="7.75" height="11.43" fill="#fff"/>
<rect x="708.84" y="155.13" width="7.75" height="11.43" fill="#fffceb"/>
<rect x="715.59" y="155.13" width="14.50" height="11.43" fill="#fff"/>
<rect x="729.09" y="155.13" width="14.50" height="11.43" fill="#f0f9fd"/>
<rect x="742.60" y="155.13" width="14.50" height="11.43" fill="#fff"/>
<rect x="756.10" y="155.13" width="7.75" height="11.43" fill="#f0f9fd"/>
<rect x="762.85" y="155.13" width="34.75" height="11.43" fill="#dcf1fa"/>
<rect x="796.60" y="155.13" width="13.90" height="11.43" fill="#f0f9fd"/>
<rect x="135.05" y="165.56" width="48.25" height="11.43" fill="#fff"/>
<rect x="182.30" y="165.56" width="28.00" height="11.43" fill="#fffceb"/>
<rect x="209.31" y="165.56" width="257.52" height="11.43" fill="#fff"/>
<rect x="465.82" y="165.56" width="41.50" height="11.43" fill="#f0f9fd"/>
<rect x="506.33" y="165.56" width="68.50" height="11.43" fill="#fff"/>
<rect x="573.83" y="165.56" width="34.75" height="11.43" fill="#fffceb"/>
<rect x="607.59" y="165.56" width="28.00" height="11.43" fill="#fff0b4"/>
<rect x="634.59" y="165.56" width="7.75" height="11.43" fill="#fffceb"/>
<rect x="641.34" y="165.56" width="14.50" height="11.43" fill="#fff"/>
<rect x="654.84" y="165.56" width="7.75" height="11.43" fill="#f0f9fd"/>
<rect x="661.59" y="165.56" width="7.75" height="11.43" fill="#dcf1fa"/>
<rect x="668.34" y="165.56" width="34.75" height="11.43" fill="#f0f9fd"/>
<rect x="702.09" y="165.56" width="7.75" height="11.43" fill="#fff"/>
<rect x="708.84" y="165.56" width="14.50" height="11.43" fill="#fffceb"/>
<rect x="722.34" y="165.56" width="7.75" height="11.43" fill="#fff"/>
<rect x="729.09" y="165.56" width="21.25" height="11.43" fill="#f0f9fd"/>
<rect x="749.35" y="165.56" width="7.75" height="11.43" fill="#dcf1fa"/>
<rect x="756.10" y="165.56" width="41.50" height="11.43" fill="#bee5f8"/>
<rect x="796.60" y="165.56" width="13.90" height="11.43" fill="#f0f9fd"/>
<rect x="135.05" y="175.99" width="48.25" height="11.43" fill="#fff"/>
<rect x="182.30" y="175.99" width="14.50" height="11.43" fill="#fffceb"/>
<rect x="195.80" y="175.99" width="271.02" height="11.43" fill="#fff"/>
<rect x="465.82" y="175.99" width="28.00" height="11.43" fill="#f0f9fd"/>
<rect x="492.83" y="175.99" width="115.76" height="11.43" fill="#fff"/>
<rect x="607.59" y="175.99" width="28.00" height="11.43" fill="#fffceb"/>
<rect x="634.59" y="175.99" width="14.50" height="11.43" fill="#fff"/>
<rect x="648.09" y="175.99" width="14.50" height="11.43" fill="#f0f9fd"/>
<rect x="661.59" y="175.99" width="28.00" height="11.43" fill="#bee5f8"/>
<rect x="688.59" y="175.99" width="14.50" height="11.43" fill="#a0d9f5"/>
<rect x="702.09" y="175.99" width="7.75" height="11.43" fill="#dcf1fa"/>
<rect x="708.84" y="175.99" width="7.75" height="11.43" fill="#f0f9fd"/>
<rect x="715.59" y="175.99" width="7.75" height="11.43" fill="#fff"/>
<rect x="722.34" y="175.99" width="14.50" height="11.43" fill="#f0f9fd"/>
<rect x="735.84" y="175.99" width="21.25" height="11.43" fill="#dcf1fa"/>
<rect x="756.10" y="175.99" width="41.50" height="11.43" fill="#bee5f8"/>
<rect x="796.60" y="175.99" width="13.90" height="11.43" fill="#dcf1fa"/>
<rect x="135.05" y="186.43" width="7.75" height="11.43" fill="#fffceb"/>
<rect x="141.80" y="186.43" width="21.25" height="11.43" fill="#fff"/>
<rect x="162.05" y="186.43" width="7.75" height="11.43" fill="#fffceb"/>
<rect x="168.80" y="186.43" width="304.77" height="11.43" fill="#fff"/>
<rect x="472.57" y="186.43" width="14.50" height="11.43" fill="#f0f9fd"/>
<rect x="486.08" y="186.43" width="156.26" height="11.43" fill="#fff"/>
<rect x="641.34" y="186.43" width="14.50" height="11.43" fill="#f0f9fd"/>
<rect x="654.84" y="186.43" width="7.75" height="11.43" fill="#dcf1fa"/>
<rect x="661.59" y="186.43" width="21.25" height="11.43" fill="#bee5f8"/>
<rect x="681.84" y="186.43" width="21.25" height="11.43" fill="#dcf1fa"/>
<rect x="702.09" y="186.43" width="7.75" height="11.43" fill="#f0f9fd"/>
<rect x="708.84" y="186.43" width="28.00" height="11.43" fill="#fff"/>
<rect x="735.84" y="186.43" width="7.75" height="11.43" fill="#f0f9fd"/>
<rect x="742.60" y="186.43" width="14.50" height="11.43" fill="#dcf1fa"/>
<rect x="756.10" y="186.43" width="21.25" height="11.43" fill="#bee5f8"/>
<rect x="776.35" y="186.43" width="14.50" height="11.43" fill="#dcf1fa"/>
<rect x="789.85" y="186.43" width="14.50" height="11.43" fill="#f0f9fd"/>
<rect x="803.35" y="186.43" width="7.15" height="11.43" fill="#dcf1fa"/>
<rect x="135.05" y="196.86" width="7.75" height="11.43" fill="#fffceb"/>
<rect x="141.80" y="196.86" width="7.75" height="11.43" fill="#fff"/>
<rect x="148.55" y="196.86" width="34.75" height="11.43" fill="#fffceb"/>
<rect x="182.30" y="196.86" width="466.78" height="11.43" fill="#fff"/>
<rect x="648.09" y="196.86" width="7.75" height="11.43" fill="#f0f9fd"/>
<rect x="654.84" y="196.86" width="7.75" height="11.43" fill="#dcf1fa"/>
<rect x="661.59" y="196.86" width="21.25" height="11.43" fill="#bee5f8"/>
<rect x="681.84" y="196.86" width="7.75" height="11.43" fill="#dcf1fa"/>
<rect x="688.59" y="196.86" width="14.50" height="11.43" fill="#f0f9fd"/>
<rect x="702.09" y="196.86" width="28.00" height="11.43" fill="#fff"/>
<rect x="729.09" y="196.86" width="14.50" height="11.43" fill="#f0f9fd"/>
<rect x="742.60" y="196.86" width="14.50" height="11.43" fill="#dcf1fa"/>
<rect x="756.10" y="196.86" width="14.50" height="11.43" fill="#bee5f8"/>
<rect x="769.60" y="196.86" width="14.50" height="11.43" fill="#dcf1fa"/>
<rect x="783.10" y="196.86" width="21.25" height="11.43" fill="#f0f9fd"/>
<rect x="803.35" y="196.86" width="7.15" height="11.43" fill="#dcf1fa"/>
<rect x="135.05" y="207.29" width="14.50" height="11.43" fill="#fff"/>
<rect x="148.55" y="207.29" width="34.75" height="11.43" fill="#fffceb"/>
<rect x="182.30" y="207.29" width="460.03" height="11.43" fill="#fff"/>
<rect x="641.34" y="207.29" width="14.50" height="11.43" fill="#f0f9fd"/>
<rect x="654.84" y="207.29" width="7.75" height="11.43" fill="#dcf1fa"/>
<rect x="661.59" y="207.29" width="21.25" height="11.43" fill="#bee5f8"/>
<rect x="681.84" y="207.29" width="7.75" height="11.43" fill="#dcf1fa"/>
<rect x="688.59" y="207.29" width="7.75" height="11.43" fill="#f0f9fd"/>
<rect x="695.34" y="207.29" width="41.50" height="11.43" fill="#fff"/>
<rect x="735.84" y="207.29" width="21.25" height="11.43" fill="#f0f9fd"/>
<rect x="756.10" y="207.29" width="14.50" height="11.43" fill="#bee5f8"/>
<rect x="769.60" y="207.29" width="14.50" height="11.43" fill="#dcf1fa"/>
<rect x="783.10" y="207.29" width="7.75" height="11.43" fill="#f0f9fd"/>
<rect x="789.85" y="207.29" width="7.75" height="11.43" fill="#fff"/>
<rect x="796.60" y="207.29" width="7.75" height="11.43" fill="#f0f9fd"/>
<rect x="803.35" y="207.29" width="7.15" height="11.43" fill="#dcf1fa"/>
<rect x="135.05" y="217.72" width="14.50" height="11.43" fill="#fff"/>
<rect x="148.55" y="217.72" width="41.50" height="11.43" fill="#fffceb"/>
<rect x="189.05" y="217.72" width="291.27" height="11.43" fill="#fff"/>
<rect x="479.33" y="217.72" width="14.50" height="11.43" fill="#f0f9fd"/>
<rect x="492.83" y="217.72" width="156.26" height="11.43" fill="#fff"/>
<rect x="648.09" y="217.72" width="14.50" height="11.43" fill="#f0f9fd"/>
<rect x="661.59" y="217.72" width="14.50" height="11.43" fill="#dcf1fa"/>
<rect x="675.09" y="217.72" width="7.75" height="11.43" fill="#bee5f8"/>
<rect x="681.84" y="217.72" width="14.50" height="11.43" fill="#dcf1fa"/>
<rect x="695.34" y="217.72" width="7.75" height="11.43" fill="#f0f9fd"/>
<rect x="702.09" y="217.72" width="28.00" height="11.43" fill="#fff"/>
<rect x="729.09" y="217.72" width="7.75" height="11.43" fill="#f0f9fd"/>
<rect x="735.84" y="217.72" width="41.50" height="11.43" fill="#dcf1fa"/>
<rect x="776.35" y="217.72" width="14.50" height="11.43" fill="#f0f9fd"/>
<rect x="789.85" y="217.72" width="7.75" height="11.43" fill="#fff"/>
<rect x="796.60" y="217.72" width="13.90" height="11.43" fill="#f0f9fd"/>
<rect x="135.05" y="228.16" width="14.50" height="11.43" fill="#fff"/>
<rect x="148.55" y="228.16" width="41.50" height="11.43" fill="#fffceb"/>
<rect x="189.05" y="228.16" width="453.28" height="11.43" fill="#fff"/>
<rect x="641.34" y="228.16" width="34.75" height="11.43" fill="#f0f9fd"/>
<rect x="675.09" y="228.16" width="7.75" height="11.43" fill="#dcf1fa"/>
<rect x="681.84" y="228.16" width="7.75" height="11.43" fill="#bee5f8"/>
<rect x="688.59" y="228.16" width="14.50" height="11.43" fill="#dcf1fa"/>
<rect x="702.09" y="228.16" width="7.75" height="11.43" fill="#f0f9fd"/>
<rect x="708.84" y="228.16" width="28.00" height="11.43" fill="#fff"/>
<rect x="735.84" y="228.16" width="7.75" height="11.43" fill="#f0f9fd"/>
<rect x="742.60" y="228.16" width="28.00" height="11.43" fill="#dcf1fa"/>
<rect x="769.60" y="228.16" width="14.50" height="11.43" fill="#f0f9fd"/>
<rect x="783.10" y="228.16" width="14.50" height="11.43" fill="#fff"/>
<rect x="796.60" y="228.16" width="13.90" height="11.43" fill="#f0f9fd"/>
<rect x="135.05" y="238.59" width="21.25" height="11.43" fill="#fff"/>
<rect x="155.30" y="238.59" width="28.00" height="11.43" fill="#fffceb"/>
<rect x="182.30" y="238.59" width="338.53" height="11.43" fill="#fff"/>
<rect x="519.83" y="238.59" width="41.50" height="11.43" fill="#fffceb"/>
<rect x="560.33" y="238.59" width="61.75" height="11.43" fill="#fff"/>
<rect x="621.09" y="238.59" width="7.75" height="11.43" fill="#fffceb"/>
<rect x="627.84" y="238.59" width="34.75" height="11.43" fill="#fff"/>
<rect x="661.59" y="238.59" width="14.50" height="11.43" fill="#f0f9fd"/>
<rect x="675.09" y="238.59" width="7.75" height="11.43" fill="#dcf1fa"/>
<rect x="681.84" y="238.59" width="14.50" height="11.43" fill="#bee5f8"/>
<rect x="695.34" y="238.59" width="14.50" height="11.43" fill="#dcf1fa"/>
<rect x="708.84" y="238.59" width="7.75" height="11.43" fill="#f0f9fd"/>
<rect x="715.59" y="238.59" width="14.50" height="11.43" fill="#fff"/>
<rect x="729.09" y="238.59" width="7.75" height="11.43" fill="#f0f9fd"/>
<rect x="735.84" y="238.59" width="34.75" height="11.43" fill="#dcf1fa"/>
<rect x="769.60" y="238.59" width="14.50" height="11.43" fill="#f0f9fd"/>
<rect x="783.10" y="238.59" width="14.50" height="11.43" fill="#fff"/>
<rect x="796.60" y="238.59" width="13.90" height="11.43" fill="#f0f9fd"/>
<rect x="135.05" y="249.02" width="412.78" height="11.43" fill="#fff"/>
<rect x="546.83" y="249.02" width="7.75" height="11.43" fill="#fffceb"/>
<rect x="553.58" y="249.02" width="88.76" height="11.43" fill="#fff"/>
<rect x="641.34" y="249.02" width="14.50" height="11.43" fill="#dcf1fa"/>
<rect x="654.84" y="249.02" width="7.75" height="11.43" fill="#f0f9fd"/>
<rect x="661.59" y="249.02" width="14.50" height="11.43" fill="#dcf1fa"/>
<rect x="675.09" y="249.02" width="7.75" height="11.43" fill="#bee5f8"/>
<rect x="681.84" y="249.02" width="7.75" height="11.43" fill="#a0d9f5"/>
<rect x="688.59" y="249.02" width="14.50" height="11.43" fill="#bee5f8"/>
<rect x="702.09" y="249.02" width="14.50" height="11.43" fill="#f0f9fd"/>
<rect x="715.59" y="249.02" width="21.25" height="11.43" fill="#fff"/>
<rect x="735.84" y="249.02" width="14.50" height="11.43" fill="#f0f9fd"/>
<rect x="749.35" y="249.02" width="14.50" height="11.43" fill="#dcf1fa"/>
<rect x="762.85" y="249.02" width="14.50" height="11.43" fill="#f0f9fd"/>
<rect x="776.35" y="249.02" width="28.00" height="11.43" fill="#fff"/>
<rect x="803.35" y="249.02" width="7.15" height="11.43" fill="#f0f9fd"/>
<rect x="135.05" y="259.45" width="426.28" height="11.43" fill="#fff"/>
<rect x="560.33" y="259.45" width="7.75" height="11.43" fill="#fffceb"/>
<rect x="567.08" y="259.45" width="75.26" height="11.43" fill="#fff"/>
<rect x="641.34" y="259.45" width="28.00" height="11.43" fill="#f0f9fd"/>
<rect x="668.34" y="259.45" width="7.75" height="11.43" fill="#fff"/>
<rect x="675.09" y="259.45" width="7.75" height="11.43" fill="#f0f9fd"/>
<rect x="681.84" y="259.45" width="28.00" height="11.43" fill="#dcf1fa"/>
<rect x="708.84" y="259.45" width="7.75" height="11.43" fill="#f0f9fd"/>
<rect x="715.59" y="259.45" width="14.50" height="11.43" fill="#fff"/>
<rect x="729.09" y="259.45" width="14.50" height="11.43" fill="#f0f9fd"/>
<rect x="742.60" y="259.45" width="21.25" height="11.43" fill="#dcf1fa"/>
<rect x="762.85" y="259.45" width="14.50" height="11.43" fill="#f0f9fd"/>
<rect x="776.35" y="259.45" width="34.15" height="11.43" fill="#fff"/>
<rect x="135.05" y="269.89" width="419.53" height="11.43" fill="#fff"/>
<rect x="553.58" y="269.89" width="14.50" height="11.43" fill="#fffceb"/>
<rect x="567.08" y="269.89" width="68.50" height="11.43" fill="#fff"/>
<rect x="634.59" y="269.89" width="7.75" height="11.43" fill="#f0f9fd"/>
<rect x="641.34" y="269.89" width="28.00" height="11.43" fill="#dcf1fa"/>
<rect x="668.34" y="269.89" width="14.50" height="11.43" fill="#f0f9fd"/>
<rect x="681.84" y="269.89" width="28.00" height="11.43" fill="#dcf1fa"/>
<rect x="708.84" y="269.89" width="14.50" height="11.43" fill="#f0f9fd"/>
<rect x="722.34" y="269.89" width="7.75" height="11.43" fill="#fff"/>
<rect x="729.09" y="269.89" width="7.75" height="11.43" fill="#f0f9fd"/>
<rect x="735.84" y="269.89" width="28.00" height="11.43" fill="#dcf1fa"/>
<rect x="762.85" y="269.89" width="21.25" height="11.43" fill="#f0f9fd"/>
<rect x="783.10" y="269.89" width="27.40" height="11.43" fill="#fff"/>
<rect x="135.05" y="280.32" width="453.28" height="16.65" fill="#fff"/>
<rect x="587.33" y="280.32" width="7.75" height="16.65" fill="#f0f9fd"/>
<rect x="594.08" y="280.32" width="34.75" height="16.65" fill="#fff"/>
<rect x="627.84" y="280.32" width="14.50" height="16.65" fill="#f0f9fd"/>
<rect x="641.34" y="280.32" width="28.00" height="16.65" fill="#dcf1fa"/>
<rect x="668.34" y="280.32" width="7.75" height="16.65" fill="#fff"/>
<rect x="675.09" y="280.32" width="14.50" height="16.65" fill="#f0f9fd"/>
<rect x="688.59" y="280.32" width="21.25" height="16.65" fill="#dcf1fa"/>
<rect x="708.84" y="280.32" width="14.50" height="16.65" fill="#f0f9fd"/>
<rect x="722.34" y="280.32" width="7.75" height="16.65" fill="#fff"/>
<rect x="729.09" y="280.32" width="21.25" height="16.65" fill="#f0f9fd"/>
<rect x="749.35" y="280.32" width="7.75" height="16.65" fill="#dcf1fa"/>
<rect x="756.10" y="280.32" width="14.50" height="16.65" fill="#f0f9fd"/>
<rect x="769.60" y="280.32" width="40.90" height="16.65" fill="#fff"/>
<rect x="135.05" y="295.97" width="385.78" height="21.87" fill="#fff"/>
<rect x="519.83" y="295.97" width="48.25" height="21.87" fill="#fffceb"/>
<rect x="567.08" y="295.97" width="61.75" height="21.87" fill="#fff"/>
<rect x="627.84" y="295.97" width="14.50" height="21.87" fill="#f0f9fd"/>
<rect x="641.34" y="295.97" width="28.00" height="21.87" fill="#dcf1fa"/>
<rect x="668.34" y="295.97" width="14.50" height="21.87" fill="#f0f9fd"/>
<rect x="681.84" y="295.97" width="14.50" height="21.87" fill="#dcf1fa"/>
<rect x="695.34" y="295.97" width="7.75" height="21.87" fill="#f0f9fd"/>
<rect x="702.09" y="295.97" width="7.75" height="21.87" fill="#dcf1fa"/>
<rect x="708.84" y="295.97" width="7.75" height="21.87" fill="#f0f9fd"/>
<rect x="715.59" y="295.97" width="28.00" height="21.87" fill="#fff"/>
<rect x="742.60" y="295.97" width="28.00" height="21.87" fill="#f0f9fd"/>
<rect x="769.60" y="295.97" width="40.90" height="21.87" fill="#fff"/>
<rect x="135.05" y="316.83" width="399.28" height="21.87" fill="#fff"/>
<rect x="533.33" y="316.83" width="34.75" height="21.87" fill="#fffceb"/>
<rect x="567.08" y="316.83" width="75.26" height="21.87" fill="#fff"/>
<rect x="641.34" y="316.83" width="28.00" height="21.87" fill="#f0f9fd"/>
<rect x="668.34" y="316.83" width="7.75" height="21.87" fill="#fff"/>
<rect x="675.09" y="316.83" width="14.50" height="21.87" fill="#f0f9fd"/>
<rect x="688.59" y="316.83" width="7.75" height="21.87" fill="#dcf1fa"/>
<rect x="695.34" y="316.83" width="21.25" height="21.87" fill="#f0f9fd"/>
<rect x="715.59" y="316.83" width="34.75" height="21.87" fill="#fff"/>
<rect x="749.35" y="316.83" width="21.25" height="21.87" fill="#f0f9fd"/>
<rect x="769.60" y="316.83" width="40.90" height="21.87" fill="#fff"/>
<rect x="135.05" y="337.70" width="406.03" height="21.87" fill="#fff"/>
<rect x="540.08" y="337.70" width="14.50" height="21.87" fill="#fffceb"/>
<rect x="553.58" y="337.70" width="122.51" height="21.87" fill="#fff"/>
<rect x="675.09" y="337.70" width="28.00" height="21.87" fill="#f0f9fd"/>
<rect x="702.09" y="337.70" width="108.41" height="21.87" fill="#fff"/>
<rect x="135.05" y="358.56" width="439.78" height="21.87" fill="#fff"/>
<rect x="573.83" y="358.56" width="21.25" height="21.87" fill="#f0f9fd"/>
<rect x="594.08" y="358.56" width="75.26" height="21.87" fill="#fff"/>
<rect x="668.34" y="358.56" width="41.50" height="21.87" fill="#f0f9fd"/>
<rect x="708.84" y="358.56" width="101.66" height="21.87" fill="#fff"/>
<rect x="135.05" y="379.43" width="433.03" height="21.87" fill="#fff"/>
<rect x="567.08" y="379.43" width="34.75" height="21.87" fill="#f0f9fd"/>
<rect x="600.83" y="379.43" width="68.51" height="21.87" fill="#fff"/>
<rect x="668.34" y="379.43" width="14.50" height="21.87" fill="#f0f9fd"/>
<rect x="681.84" y="379.43" width="14.50" height="21.87" fill="#dcf1fa"/>
<rect x="695.34" y="379.43" width="14.50" height="21.87" fill="#f0f9fd"/>
<rect x="708.84" y="379.43" width="101.66" height="21.87" fill="#fff"/>
<rect x="135.05" y="400.29" width="527.54" height="21.87" fill="#fff"/>
<rect x="661.59" y="400.29" width="28.00" height="21.87" fill="#f0f9fd"/>
<rect x="688.59" y="400.29" width="7.75" height="21.87" fill="#dcf1fa"/>
<rect x="695.34" y="400.29" width="28.00" height="21.87" fill="#f0f9fd"/>
<rect x="722.34" y="400.29" width="88.16" height="21.87" fill="#fff"/>
<rect x="135.05" y="421.16" width="675.45" height="30.00" fill="#fff"/>
</g>
<g stroke="#000" fill="none" stroke-linecap="butt">
<rect x="135.40" y="98.10" width="675.10" height="417.30" stroke-width="2.20" stroke-linejoin="round"/>
<path d="M169.16 98.10V82.50M169.16 515.40V531.00" stroke-width="2.30"/>
<path d="M236.67 98.10V90.30M236.67 515.40V523.20" stroke-width="1.30"/>
<path d="M304.18 98.10V90.30M304.18 515.40V523.20" stroke-width="1.30"/>
<path d="M371.69 98.10V82.50M371.69 515.40V531.00" stroke-width="2.30"/>
<path d="M439.20 98.10V90.30M439.20 515.40V523.20" stroke-width="1.30"/>
<path d="M506.71 98.10V90.30M506.71 515.40V523.20" stroke-width="1.30"/>
<path d="M574.22 98.10V82.50M574.22 515.40V531.00" stroke-width="2.30"/>
<path d="M641.73 98.10V90.30M641.73 515.40V523.20" stroke-width="1.30"/>
<path d="M709.24 98.10V90.30M709.24 515.40V523.20" stroke-width="1.30"/>
<path d="M776.75 98.10V82.50M776.75 515.40V531.00" stroke-width="2.30"/>
<path d="M135.40 118.96H127.60M810.50 118.96H818.30" stroke-width="1.30"/>
<path d="M135.40 139.83H127.60M810.50 139.83H818.30" stroke-width="1.30"/>
<path d="M135.40 160.69H119.80M810.50 160.69H826.10" stroke-width="2.30"/>
<path d="M135.40 181.56H127.60M810.50 181.56H818.30" stroke-width="1.30"/>
<path d="M135.40 202.42H127.60M810.50 202.42H818.30" stroke-width="1.30"/>
<path d="M135.40 223.29H119.80M810.50 223.29H826.10" stroke-width="2.30"/>
<path d="M135.40 244.15H127.60M810.50 244.15H818.30" stroke-width="1.30"/>
<path d="M135.40 265.02H127.60M810.50 265.02H818.30" stroke-width="1.30"/>
<path d="M135.40 285.88H119.80M810.50 285.88H826.10" stroke-width="2.30"/>
<path d="M135.40 306.75H127.60M810.50 306.75H818.30" stroke-width="1.30"/>
<path d="M135.40 327.61H127.60M810.50 327.61H818.30" stroke-width="1.30"/>
<path d="M135.40 348.48H119.80M810.50 348.48H826.10" stroke-width="2.30"/>
<path d="M135.40 369.34H127.60M810.50 369.34H818.30" stroke-width="1.30"/>
<path d="M135.40 390.21H127.60M810.50 390.21H818.30" stroke-width="1.30"/>
<path d="M135.40 411.07H119.80M810.50 411.07H826.10" stroke-width="2.30"/>
<path d="M135.40 431.94H127.60M810.50 431.94H818.30" stroke-width="1.30"/>
<path d="M135.40 452.80H127.60M810.50 452.80H818.30" stroke-width="1.30"/>
<path d="M135.40 473.67H119.80M810.50 473.67H826.10" stroke-width="2.30"/>
<path d="M135.40 494.53H127.60M810.50 494.53H818.30" stroke-width="1.30"/>
<path d="M135.40 515.40H127.60M810.50 515.40H818.30" stroke-width="1.30"/>
</g>
<text x="473.4" y="26.8" font-size="38.7" text-anchor="middle" stroke="#000" stroke-width="0.4">temperature</text>
<text x="134.9" y="77.9" font-size="23.2" font-weight="bold" stroke="#000" stroke-width="0.3">year=(1962:1962)</text>
<text x="811.3" y="77.9" font-size="23.2" font-weight="bold" stroke="#000" stroke-width="0.3" text-anchor="end">range (-0.5 : 0.5) degree Celsius</text>
<text transform="translate(25.3 306.8) rotate(-90)" font-size="31.25" text-anchor="middle" stroke="#000" stroke-width="0.35">standard depth</text>
<text x="103.6" y="169.39" font-size="25" text-anchor="end" stroke="#000" stroke-width="0.35">300</text>
<text x="103.6" y="231.99" font-size="25" text-anchor="end" stroke="#000" stroke-width="0.35">600</text>
<text x="103.6" y="294.58" font-size="25" text-anchor="end" stroke="#000" stroke-width="0.35">900</text>
<text x="103.6" y="357.18" font-size="25" text-anchor="end" stroke="#000" stroke-width="0.35">1200</text>
<text x="103.6" y="419.77" font-size="25" text-anchor="end" stroke="#000" stroke-width="0.35">1500</text>
<text x="103.6" y="482.37" font-size="25" text-anchor="end" stroke="#000" stroke-width="0.35">1800</text>
<text x="169.35" y="567.1" font-size="25.3" text-anchor="middle" stroke="#000" stroke-width="0.35">30S</text>
<text x="371.89" y="567.1" font-size="25.3" text-anchor="middle" stroke="#000" stroke-width="0.35">0</text>
<text x="574.42" y="567.1" font-size="25.3" text-anchor="middle" stroke="#000" stroke-width="0.35">30N</text>
<text x="776.95" y="567.1" font-size="25.3" text-anchor="middle" stroke="#000" stroke-width="0.35">60N</text>
<g stroke="none">
<rect x="175.20" y="597.20" width="25.90" height="35.75" fill="#1e2c5f"/>
<rect x="202.25" y="597.20" width="25.90" height="35.75" fill="#214282"/>
<rect x="229.31" y="597.20" width="25.90" height="35.75" fill="#2860aa"/>
<rect x="256.36" y="597.20" width="25.90" height="35.75" fill="#4182c3"/>
<rect x="283.42" y="597.20" width="25.90" height="35.75" fill="#5da8db"/>
<rect x="310.47" y="597.20" width="25.90" height="35.75" fill="#7dc3e8"/>
<rect x="337.53" y="597.20" width="25.90" height="35.75" fill="#a0d9f5"/>
<rect x="364.58" y="597.20" width="25.90" height="35.75" fill="#bee5f8"/>
<rect x="391.64" y="597.20" width="25.90" height="35.75" fill="#dcf1fa"/>
<rect x="418.69" y="597.20" width="25.90" height="35.75" fill="#f0f9fd"/>
<rect x="445.75" y="597.20" width="25.90" height="35.75" fill="#ffffff"/>
<rect x="472.80" y="597.20" width="25.90" height="35.75" fill="#ffffff"/>
<rect x="499.85" y="597.20" width="25.90" height="35.75" fill="#fffceb"/>
<rect x="526.91" y="597.20" width="25.90" height="35.75" fill="#fff0b4"/>
<rect x="553.96" y="597.20" width="25.90" height="35.75" fill="#fedc82"/>
<rect x="581.02" y="597.20" width="25.90" height="35.75" fill="#fdbe50"/>
<rect x="608.07" y="597.20" width="25.90" height="35.75" fill="#faa032"/>
<rect x="635.13" y="597.20" width="25.90" height="35.75" fill="#f57d2d"/>
<rect x="662.18" y="597.20" width="25.90" height="35.75" fill="#eb5528"/>
<rect x="689.24" y="597.20" width="25.90" height="35.75" fill="#dc2d28"/>
<rect x="716.29" y="597.20" width="25.90" height="35.75" fill="#be1c23"/>
<rect x="743.35" y="597.20" width="25.90" height="35.75" fill="#9b161c"/>
</g>
<g stroke="#000" stroke-width="1.45" fill="none">
<rect x="175.20" y="597.20" width="595.20" height="36.90"/>
<path d="M202.25 597.20V634.10M229.31 597.20V634.10M256.36 597.20V634.10M283.42 597.20V634.10M310.47 597.20V634.10M337.53 597.20V634.10M364.58 597.20V634.10M391.64 597.20V634.10M418.69 597.20V634.10M445.75 597.20V634.10M472.80 597.20V634.10M499.85 597.20V634.10M526.91 597.20V634.10M553.96 597.20V634.10M581.02 597.20V634.10M608.07 597.20V634.10M635.13 597.20V634.10M662.18 597.20V634.10M689.24 597.20V634.10M716.29 597.20V634.10M743.35 597.20V634.10"/>
</g>
<text x="202.25" y="662.0" font-size="22.6" text-anchor="middle" stroke="#000" stroke-width="0.3">-1</text>
<text x="256.36" y="662.0" font-size="22.6" text-anchor="middle" stroke="#000" stroke-width="0.3">-0.8</text>
<text x="310.47" y="662.0" font-size="22.6" text-anchor="middle" stroke="#000" stroke-width="0.3">-0.6</text>
<text x="364.58" y="662.0" font-size="22.6" text-anchor="middle" stroke="#000" stroke-width="0.3">-0.4</text>
<text x="418.69" y="662.0" font-size="22.6" text-anchor="middle" stroke="#000" stroke-width="0.3">-0.2</text>
<text x="472.80" y="662.0" font-size="22.6" text-anchor="middle" stroke="#000" stroke-width="0.3">0</text>
<text x="526.91" y="662.0" font-size="22.6" text-anchor="middle" stroke="#000" stroke-width="0.3">0.2</text>
<text x="581.02" y="662.0" font-size="22.6" text-anchor="middle" stroke="#000" stroke-width="0.3">0.4</text>
<text x="635.13" y="662.0" font-size="22.6" text-anchor="middle" stroke="#000" stroke-width="0.3">0.6</text>
<text x="689.24" y="662.0" font-size="22.6" text-anchor="middle" stroke="#000" stroke-width="0.3">0.8</text>
<text x="743.35" y="662.0" font-size="22.6" text-anchor="middle" stroke="#000" stroke-width="0.3">1</text>
</svg>
</body>
</html>
